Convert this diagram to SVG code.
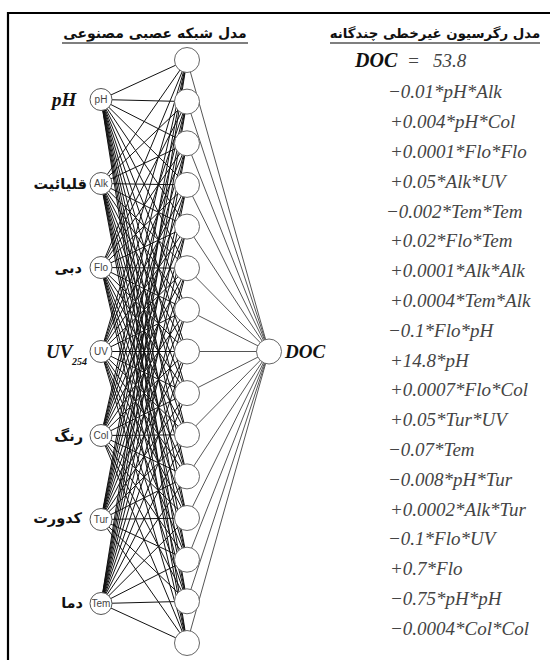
<svg xmlns="http://www.w3.org/2000/svg" width="550" height="660" viewBox="0 0 550 660">
<style>
.frame{fill:none;stroke:#000;stroke-width:2.2}
.title{font-family:"DejaVu Sans",sans-serif;font-weight:bold;font-size:14px;fill:#111}
.uline{stroke:#555;stroke-width:1.6}
.fa{font-family:"DejaVu Sans",sans-serif;font-weight:bold;font-size:14.5px;fill:#111;text-anchor:end}
.en{font-family:"Liberation Serif",serif;font-weight:bold;font-style:italic;font-size:19px;fill:#111}
.sub{font-family:"Liberation Serif",serif;font-weight:bold;font-style:italic;font-size:10px;fill:#111}
.inc{fill:#fff;stroke:#555;stroke-width:1}
.lbl{font-family:"Liberation Sans",sans-serif;font-size:10px;fill:#444;text-anchor:middle}
.node{fill:#fff;stroke:#666;stroke-width:1}
.w1{fill:none;stroke:#111;stroke-width:1}
.w2{fill:none;stroke:#555;stroke-width:1}
.eq{font-family:"Liberation Serif",serif;font-style:italic;font-size:19px;fill:#444}
.eqb{font-family:"Liberation Serif",serif;font-style:italic;font-weight:bold;font-size:20px;fill:#111}
</style>
<path class="frame" d="M8 660V13H550"/>
<g id="titles">
<text class="title" x="155" y="38" text-anchor="middle">مدل شبکه عصبی مصنوعی</text>
<line class="uline" x1="62" y1="43" x2="248" y2="43"/>
<text class="title" x="435" y="38" text-anchor="middle" style="font-size:13.3px">مدل رگرسیون غیرخطی چندگانه</text>
<line class="uline" x1="330" y1="43" x2="540" y2="43"/>
</g>
<g id="connectors">
<path class="w1" d="M101 99.5L187 60M101 99.5L187 101.6M101 99.5L187 143.3M101 99.5L187 184.9M101 99.5L187 226.6M101 99.5L187 268.2M101 99.5L187 309.8M101 99.5L187 351.5M101 99.5L187 393.1M101 99.5L187 434.8M101 99.5L187 476.4M101 99.5L187 518M101 99.5L187 559.7M101 99.5L187 601.3M101 99.5L187 643"/>
<path class="w1" d="M101 183.5L187 60M101 183.5L187 101.6M101 183.5L187 143.3M101 183.5L187 184.9M101 183.5L187 226.6M101 183.5L187 268.2M101 183.5L187 309.8M101 183.5L187 351.5M101 183.5L187 393.1M101 183.5L187 434.8M101 183.5L187 476.4M101 183.5L187 518M101 183.5L187 559.7M101 183.5L187 601.3M101 183.5L187 643"/>
<path class="w1" d="M101 267.5L187 60M101 267.5L187 101.6M101 267.5L187 143.3M101 267.5L187 184.9M101 267.5L187 226.6M101 267.5L187 268.2M101 267.5L187 309.8M101 267.5L187 351.5M101 267.5L187 393.1M101 267.5L187 434.8M101 267.5L187 476.4M101 267.5L187 518M101 267.5L187 559.7M101 267.5L187 601.3M101 267.5L187 643"/>
<path class="w1" d="M101 351.5L187 60M101 351.5L187 101.6M101 351.5L187 143.3M101 351.5L187 184.9M101 351.5L187 226.6M101 351.5L187 268.2M101 351.5L187 309.8M101 351.5L187 351.5M101 351.5L187 393.1M101 351.5L187 434.8M101 351.5L187 476.4M101 351.5L187 518M101 351.5L187 559.7M101 351.5L187 601.3M101 351.5L187 643"/>
<path class="w1" d="M101 435.5L187 60M101 435.5L187 101.6M101 435.5L187 143.3M101 435.5L187 184.9M101 435.5L187 226.6M101 435.5L187 268.2M101 435.5L187 309.8M101 435.5L187 351.5M101 435.5L187 393.1M101 435.5L187 434.8M101 435.5L187 476.4M101 435.5L187 518M101 435.5L187 559.7M101 435.5L187 601.3M101 435.5L187 643"/>
<path class="w1" d="M101 519.5L187 60M101 519.5L187 101.6M101 519.5L187 143.3M101 519.5L187 184.9M101 519.5L187 226.6M101 519.5L187 268.2M101 519.5L187 309.8M101 519.5L187 351.5M101 519.5L187 393.1M101 519.5L187 434.8M101 519.5L187 476.4M101 519.5L187 518M101 519.5L187 559.7M101 519.5L187 601.3M101 519.5L187 643"/>
<path class="w1" d="M101 603.5L187 60M101 603.5L187 101.6M101 603.5L187 143.3M101 603.5L187 184.9M101 603.5L187 226.6M101 603.5L187 268.2M101 603.5L187 309.8M101 603.5L187 351.5M101 603.5L187 393.1M101 603.5L187 434.8M101 603.5L187 476.4M101 603.5L187 518M101 603.5L187 559.7M101 603.5L187 601.3M101 603.5L187 643"/>
<path class="w2" d="M187 60L269 351.5M187 101.6L269 351.5M187 143.3L269 351.5M187 184.9L269 351.5M187 226.6L269 351.5M187 268.2L269 351.5M187 309.8L269 351.5M187 351.5L269 351.5M187 393.1L269 351.5M187 434.8L269 351.5M187 476.4L269 351.5M187 518L269 351.5M187 559.7L269 351.5M187 601.3L269 351.5M187 643L269 351.5"/>
</g>
<g id="in-pH"><circle class="inc" cx="101" cy="99.5" r="11"/><text class="lbl" x="101" y="103">pH</text><text class="en" x="52" y="105.5">pH</text></g>
<g id="in-Alk"><circle class="inc" cx="101" cy="183.5" r="11"/><text class="lbl" x="101" y="187">Alk</text><text class="fa" x="87" y="189">قلیائیت</text></g>
<g id="in-Flo"><circle class="inc" cx="101" cy="267.5" r="11"/><text class="lbl" x="101" y="271">Flo</text><text class="fa" x="82" y="273">دبی</text></g>
<g id="in-UV"><circle class="inc" cx="101" cy="351.5" r="11"/><text class="lbl" x="101" y="355">UV</text><text class="en" x="46" y="358">UV</text><text class="sub" x="72" y="365">254</text></g>
<g id="in-Col"><circle class="inc" cx="101" cy="435.5" r="11"/><text class="lbl" x="101" y="439">Col</text><text class="fa" x="83" y="441">رنگ</text></g>
<g id="in-Tur"><circle class="inc" cx="101" cy="519.5" r="11"/><text class="lbl" x="101" y="523">Tur</text><text class="fa" x="82" y="523">کدورت</text></g>
<g id="in-Tem"><circle class="inc" cx="101" cy="603.5" r="11"/><text class="lbl" x="101" y="607">Tem</text><text class="fa" x="83" y="608">دما</text></g>
<g id="hidden">
<circle class="node" cx="187" cy="60" r="12.5"/>
<circle class="node" cx="187" cy="101.6" r="12.5"/>
<circle class="node" cx="187" cy="143.3" r="12.5"/>
<circle class="node" cx="187" cy="184.9" r="12.5"/>
<circle class="node" cx="187" cy="226.6" r="12.5"/>
<circle class="node" cx="187" cy="268.2" r="12.5"/>
<circle class="node" cx="187" cy="309.8" r="12.5"/>
<circle class="node" cx="187" cy="351.5" r="12.5"/>
<circle class="node" cx="187" cy="393.1" r="12.5"/>
<circle class="node" cx="187" cy="434.8" r="12.5"/>
<circle class="node" cx="187" cy="476.4" r="12.5"/>
<circle class="node" cx="187" cy="518" r="12.5"/>
<circle class="node" cx="187" cy="559.7" r="12.5"/>
<circle class="node" cx="187" cy="601.3" r="12.5"/>
<circle class="node" cx="187" cy="643" r="12.5"/>
</g>
<g id="out-DOC"><circle class="node" cx="269" cy="351.5" r="12.5"/><text class="eqb" x="285" y="358" style="font-size:19px">DOC</text></g>
<g id="equation">
<text class="eqb" x="355" y="67">DOC</text>
<text class="eq" x="407" y="67">=</text>
<text class="eq" x="433" y="67">53.8</text>
<text class="eq" x="388" y="98.3">−0.01*pH*Alk</text>
<text class="eq" x="390" y="128.1">+0.004*pH*Col</text>
<text class="eq" x="390" y="157.9">+0.0001*Flo*Flo</text>
<text class="eq" x="390" y="187.7">+0.05*Alk*UV</text>
<text class="eq" x="386" y="217.5">−0.002*Tem*Tem</text>
<text class="eq" x="390" y="247.3">+0.02*Flo*Tem</text>
<text class="eq" x="390" y="277.1">+0.0001*Alk*Alk</text>
<text class="eq" x="390" y="306.9">+0.0004*Tem*Alk</text>
<text class="eq" x="388" y="336.7">−0.1*Flo*pH</text>
<text class="eq" x="390" y="366.5">+14.8*pH</text>
<text class="eq" x="390" y="396.3">+0.0007*Flo*Col</text>
<text class="eq" x="390" y="426.1">+0.05*Tur*UV</text>
<text class="eq" x="388" y="455.9">−0.07*Tem</text>
<text class="eq" x="388" y="485.7">−0.008*pH*Tur</text>
<text class="eq" x="390" y="515.5">+0.0002*Alk*Tur</text>
<text class="eq" x="388" y="545.3">−0.1*Flo*UV</text>
<text class="eq" x="390" y="575.1">+0.7*Flo</text>
<text class="eq" x="390" y="604.9">−0.75*pH*pH</text>
<text class="eq" x="390" y="634.7">−0.0004*Col*Col</text>
</g>
</svg>
